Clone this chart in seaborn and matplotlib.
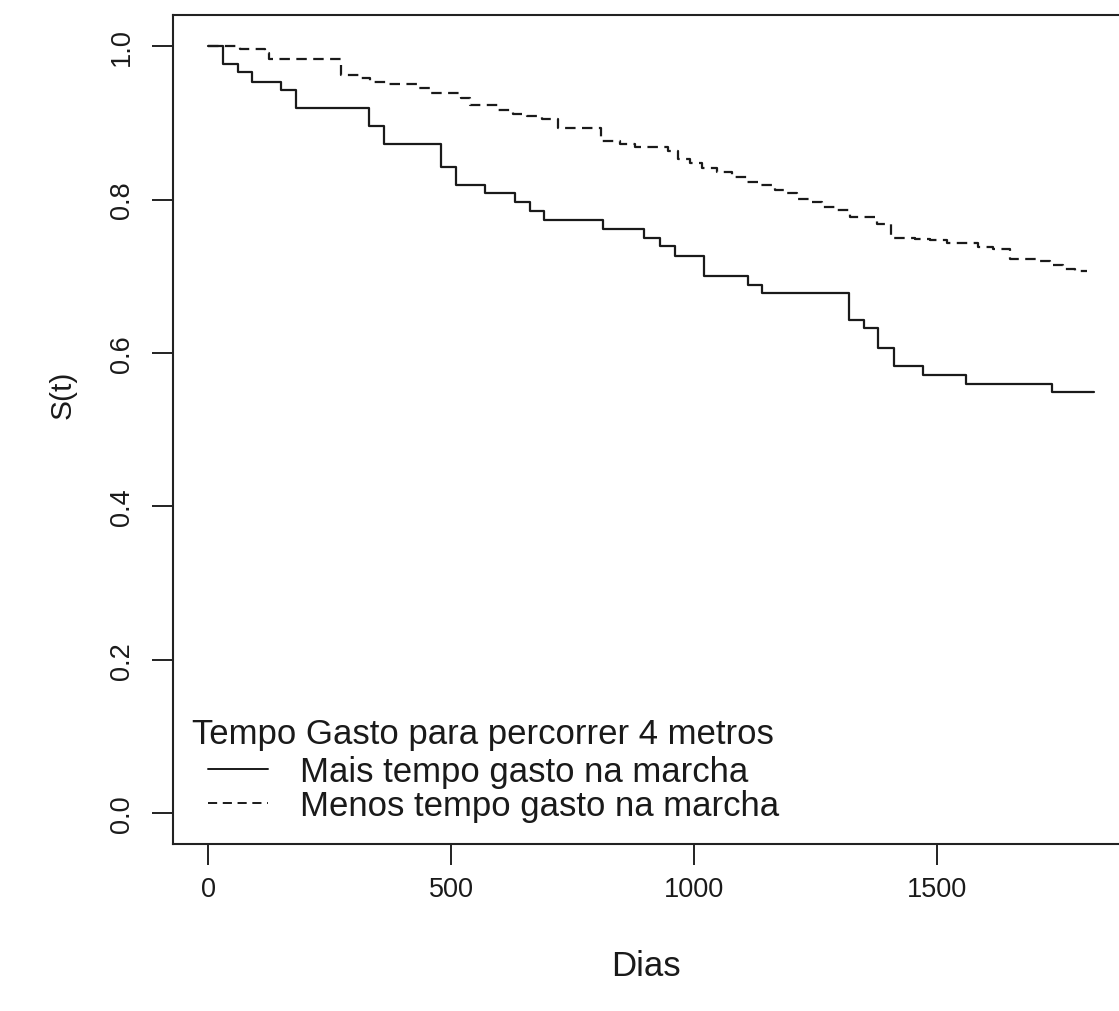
import numpy as np
import pandas as pd
import matplotlib
matplotlib.use("Agg")
import matplotlib.pyplot as plt
import seaborn as sns

# Kaplan-Meier step values
mais_t = [0, 30, 61, 89, 149, 180, 331, 362, 479, 510, 569, 631, 662, 690, 812, 897, 929, 960,
          1020, 1110, 1139, 1319, 1350, 1379, 1411, 1470, 1559, 1737, 1822]
mais_s = [1.0, 0.977, 0.966, 0.954, 0.943, 0.919, 0.896, 0.873, 0.843, 0.819, 0.809, 0.797, 0.785,
          0.774, 0.762, 0.750, 0.739, 0.727, 0.701, 0.689, 0.678, 0.643, 0.632, 0.606, 0.583, 0.571,
          0.560, 0.549, 0.549]
menos_t = [0, 65, 117, 125, 274, 312, 333, 367, 429, 456, 521, 538, 596, 627, 656, 687, 719, 809,
           847, 878, 946, 967, 991, 1016, 1046, 1077, 1108, 1131, 1166, 1187, 1211, 1238, 1262, 1293,
           1320, 1376, 1406, 1454, 1485, 1520, 1584, 1615, 1650, 1706, 1732, 1758, 1783, 1808]
menos_s = [1.0, 0.997, 0.991, 0.983, 0.963, 0.959, 0.954, 0.951, 0.945, 0.939, 0.933, 0.923, 0.917,
           0.912, 0.909, 0.905, 0.893, 0.876, 0.873, 0.868, 0.864, 0.853, 0.848, 0.841, 0.836, 0.830,
           0.823, 0.819, 0.812, 0.809, 0.801, 0.797, 0.790, 0.786, 0.777, 0.768, 0.750, 0.749, 0.747,
           0.744, 0.738, 0.736, 0.723, 0.720, 0.715, 0.710, 0.707, 0.707]

labels = ["Mais tempo gasto na marcha", "Menos tempo gasto na marcha"]
legend_title = "Tempo Gasto para percorrer 4 metros"
x_label = "Dias"
y_label = "S(t)"
x_ticks = [0, 500, 1000, 1500]
y_ticks = [0.0, 0.2, 0.4, 0.6, 0.8, 1.0]

df_mais = pd.DataFrame({"t": mais_t, "s": mais_s})
df_menos = pd.DataFrame({"t": menos_t, "s": menos_s})

sns.set_theme(style="white")
plt.rcParams["font.family"] = ["Liberation Sans", "DejaVu Sans"]

W, H = 1119, 1012
fig = plt.figure(figsize=(W / 100, H / 100), dpi=100)
left_px, right_px, top_px, bot_px = 172.7, 1133.0, 16.0, 845.0
ax = fig.add_axes([left_px / W, 1 - bot_px / H, (right_px - left_px) / W, (bot_px - top_px) / H])

ink = "#1a1a1a"
lw = 1.6
sns.lineplot(data=df_mais, x="t", y="s", ax=ax, color=ink, linewidth=lw,
             drawstyle="steps-post", estimator=None, sort=False, label=labels[0])
sns.lineplot(data=df_menos, x="t", y="s", ax=ax, color=ink, linewidth=lw,
             drawstyle="steps-post", estimator=None, sort=False, label=labels[1])
ax.lines[1].set_dashes((4.7, 2.9))

ax.set_xlim(-73.2, 1903)
ax.set_ylim(-0.0404, 1.0408)
ax.set_xticks(x_ticks)
ax.set_yticks(y_ticks)
ax.set_xticklabels([str(v) for v in x_ticks])
ax.set_yticklabels([f"{v:.1f}" for v in y_ticks], rotation=90, va="center")

for sp in ax.spines.values():
    sp.set_visible(True)
    sp.set_color("#222222")
    sp.set_linewidth(1.5)

ax.tick_params(axis="both", which="major", direction="out", length=15, width=1.4,
               color="#222222", labelsize=19.5, labelcolor=ink,
               bottom=True, left=True, top=False, right=False)
ax.tick_params(axis="x", pad=8)
ax.tick_params(axis="y", pad=12)

ax.set_xlabel(x_label, fontsize=25, color=ink, va="center")
ax.xaxis.set_label_coords(0.4929, -0.1465)
ax.set_ylabel(y_label, fontsize=21.5, color=ink, va="center")
ax.yaxis.set_label_coords(-0.1142, 0.543)

# legend title as free text, legend entries indented below it
fs_leg = 25
ax.text(0.0201, 0.1327, legend_title, transform=ax.transAxes, fontsize=fs_leg, color=ink,
        ha="left", va="center")
leg = ax.legend(loc="upper left", bbox_to_anchor=(0.0368, 0.1073), frameon=False,
                fontsize=fs_leg, handlelength=1.72, handletextpad=0.92, labelspacing=0.04,
                borderpad=0.0, borderaxespad=0.0)
for t in leg.get_texts():
    t.set_color(ink)
for h in leg.get_lines():
    h.set_linewidth(1.4)

fig.savefig("out.png", dpi=100)
